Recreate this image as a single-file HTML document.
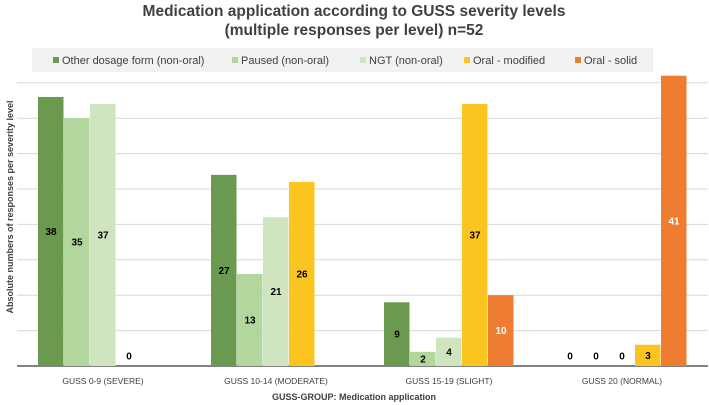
<!DOCTYPE html>
<html><head><meta charset="utf-8"><style>
body{margin:0;background:#fff;font-family:"Liberation Sans",sans-serif}
svg{display:block}
</style></head><body>
<svg id="c" width="709" height="405">
<text x="354" y="16" text-anchor="middle" font-size="15.5" font-weight="bold" fill="#404040">Medication application according to GUSS severity levels</text>
<text x="354" y="35" text-anchor="middle" font-size="15.5" font-weight="bold" fill="#404040">(multiple responses per level) n=52</text>
<rect x="32" y="48" width="621" height="24" fill="#f2f2f2"/>
<g id="grid"></g><g id="bars"></g><g id="legend"></g>
<text transform="translate(13,207) rotate(-90)" text-anchor="middle" font-size="9" font-weight="bold" fill="#404040">Absolute numbers of responses per severity level</text>
<text x="354" y="400" text-anchor="middle" font-size="9" font-weight="bold" fill="#404040">GUSS-GROUP: Medication application</text>
</svg>
<script>
const categories=["GUSS 0-9 (SEVERE)","GUSS 10-14 (MODERATE)","GUSS 15-19 (SLIGHT)","GUSS 20 (NORMAL)"];
const seriesNames=["Other dosage form (non-oral)","Paused (non-oral)","NGT (non-oral)","Oral - modified","Oral - solid"];
const otherVals=[38,27,9,0];
const pausedVals=[35,13,2,0];
const ngtVals=[37,21,4,0];
const modifiedVals=[0,26,37,3];
const solidVals=[0,0,10,41];
const gridTicks=[0,5,10,15,20,25,30,35,40];
const series=[otherVals,pausedVals,ngtVals,modifiedVals,solidVals];
const colors=["#6a9a4f","#b3d69c","#cfe5bf","#fcc41f","#ee7d31"];
const NS="http://www.w3.org/2000/svg";
const base=366, unit=7.08;
const y=v=>base-v*unit;
const cx=i=>103+i*173;
function mk(t,a,p){const e=document.createElementNS(NS,t);for(const k in a)e.setAttribute(k,a[k]);p.appendChild(e);return e;}
const grid=document.getElementById('grid');
gridTicks.forEach(t=>{
 const l=mk('line',{x1:17,x2:708,y1:y(t),y2:y(t),stroke:t===0?'#595959':'#d9d9d9','stroke-width':t===0?1.5:1},grid);
 
 
});
const bars=document.getElementById('bars');
categories.forEach((c,i)=>{
 series.forEach((s,j)=>{
  const v=s[i];
  // skip drawing labels for series that are not present in group (orange in groups 1-2, yellow in group 1 shown as 0)
  const x0=cx(i)-65+j*26;
  const show=!( (j===4&&i<2) || (j===3&&i===0&&false) );
  if(!show)return;
  const emptyOral=(j===3&&i===0);
  if(v>0){
   const r=mk('rect',{x:x0,y:y(v),width:25.5,height:v*unit,fill:colors[j]},bars);
   
   
  }
  if(j<3&&i===3||j===3&&i===3||v>0||emptyOral){
   const t=mk('text',{x:x0+13,y:(v>0?(y(v)+base)/2:356)+3.5,'text-anchor':'middle','font-size':10,'font-weight':'bold',fill:j===4?'#fff':'#000'},bars);
   t.textContent=v;
   
   
  }
 });
 const t=mk('text',{x:cx(i),y:384,'text-anchor':'middle','font-size':8.5,fill:'#404040'},bars);
 t.textContent=c;
 
 
});
const lg=document.getElementById('legend');
const lx=[53,232,360,464,575];
seriesNames.forEach((n,j)=>{
 const r=mk('rect',{x:lx[j],y:57,width:6,height:6,fill:colors[j]},lg);
 
 
 const t=mk('text',{x:lx[j]+9,y:64,'font-size':11,fill:'#404040'},lg);
 t.textContent=n;
 
 
});
</script>
</body></html>
